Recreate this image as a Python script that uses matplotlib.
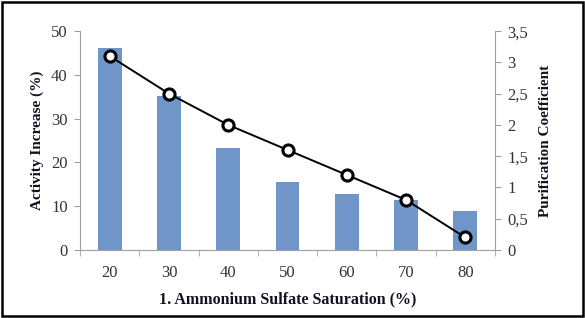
import matplotlib
matplotlib.use("Agg")
import matplotlib.pyplot as plt
import numpy as np
from matplotlib.patches import Rectangle

categories = ["20", "30", "40", "50", "60", "70", "80"]
activity_increase = [46.1, 35.2, 23.4, 15.5, 12.9, 11.4, 8.8]
purification = [3.1, 2.5, 2.0, 1.6, 1.2, 0.8, 0.2]
left_ticks = [0, 10, 20, 30, 40, 50]
right_ticks = [0, 0.5, 1, 1.5, 2, 2.5, 3, 3.5]
right_labels = ["0", "0,5", "1", "1,5", "2", "2,5", "3", "3,5"]

plt.rcParams['font.family'] = ['Liberation Serif', 'DejaVu Serif']

fig = plt.figure(figsize=(5.85, 3.18), dpi=100)
fig.patches.append(Rectangle((0.004, 0.006), 0.992, 0.988, transform=fig.transFigure,
                             fill=False, edgecolor='black', linewidth=1.8))
ax = fig.add_axes([0.137, 0.214, 0.709, 0.688])
x = np.arange(len(categories))
ax.bar(x, activity_increase, width=0.4, color='#6f95c9', zorder=2)
ax.set_xlim(-0.5, len(categories) - 0.5)
ax.set_ylim(0, 50)
ax.set_yticks(left_ticks)
ax.set_xticks(x)
ax.set_xticklabels(categories)
ax.set_xticks(np.arange(-0.5, len(categories), 1), minor=True)
ax.tick_params(axis='x', which='major', length=0, pad=11, labelsize=12, colors='#333333')
ax.tick_params(axis='x', which='minor', length=4, color='#a0a0a0')
ax.tick_params(axis='y', length=4, color='#a0a0a0', labelsize=12, labelcolor='#333333', pad=5)
for s in ['top', 'right']:
    ax.spines[s].set_visible(False)
for s in ['left', 'bottom']:
    ax.spines[s].set_color('#a0a0a0')
ax.set_ylabel("Activity Increase (%)", fontsize=11, fontweight='bold', color='#111122', labelpad=5)
ax.set_xlabel("1. Ammonium Sulfate Saturation (%)", fontsize=11.5, fontweight='bold', color='#111122', labelpad=7)

ax2 = ax.twinx()
ax2.plot(x, purification, color='black', linewidth=1.4, marker='o', markersize=8,
         markerfacecolor='white', markeredgecolor='black', markeredgewidth=2.2, zorder=3)
ax2.set_ylim(0, 3.5)
ax2.set_yticks(right_ticks)
ax2.set_yticklabels(right_labels)
ax2.tick_params(axis='y', length=4, direction='out', color='#a0a0a0', labelsize=12, labelcolor='#333333', pad=5)
for s in ['top', 'left', 'bottom']:
    ax2.spines[s].set_visible(False)
ax2.spines['right'].set_color('#a0a0a0')
ax2.set_ylabel("Purification Coefficient", fontsize=11, fontweight='bold', color='#111122', labelpad=8)

fig.savefig("out.png", dpi=100)
